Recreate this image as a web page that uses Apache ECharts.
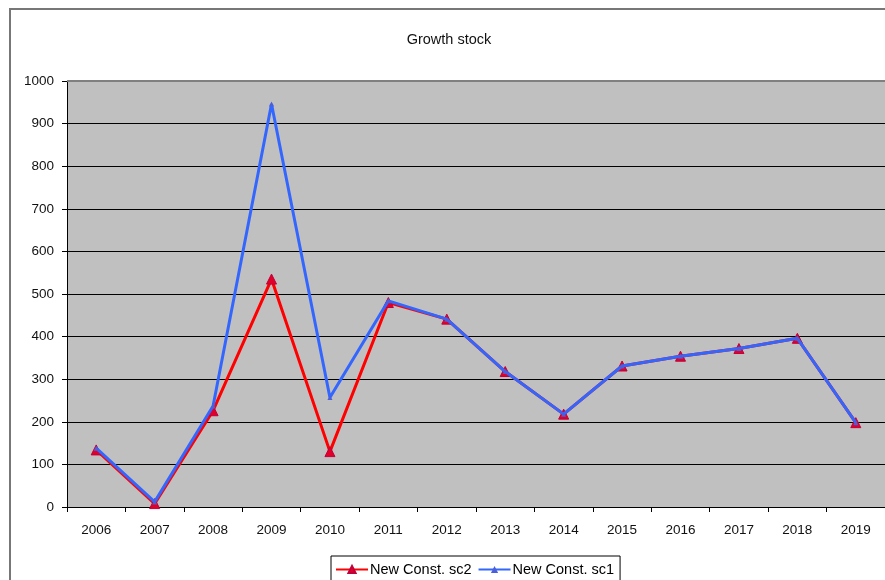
<!DOCTYPE html>
<html>
<head>
<meta charset="utf-8">
<script src="https://cdn.jsdelivr.net/npm/echarts@6/dist/echarts.min.js"></script>
<style>
  html, body { margin: 0; padding: 0; background: #fff; }
  #chart { width: 885px; height: 580px; }
</style>
</head>
<body>
<div id="chart"></div>
<script>
// Growth stock chart, Excel look

const years = ['2006', '2007', '2008', '2009', '2010', '2011', '2012', '2013', '2014', '2015', '2016', '2017', '2018', '2019'];
const sc2 = [134, 8, 226, 535, 130, 480, 441, 318, 218, 331, 354, 372, 396, 198];
const sc1 = [138, 12, 237, 946, 257, 484, 441, 318, 218, 331, 354, 372, 396, 198];

const chart = echarts.init(document.getElementById('chart'));

const font = 'Liberation Sans, Arial, sans-serif';

const option = {
    animation: false,
    backgroundColor: '#fff',
    title: {
        text: 'Growth stock',
        left: 444,
        top: 27,
        textAlign: 'center',
        textStyle: { fontSize: 14.5, fontWeight: 'normal', color: '#111', fontFamily: font },
    },
    grid: { left: 67, top: 81, right: -3, bottom: 73, backgroundColor: '#c0c0c0', show: true, borderWidth: 0 },
    legend: {
        left: 331,
        top: 556,
        orient: 'horizontal',
        itemWidth: 32,
        itemHeight: 9,
        itemGap: 6,
        padding: [6, 6, 12, 4],
        borderColor: '#000',
        borderWidth: 1,
        textStyle: { fontSize: 14.5, color: '#000', fontFamily: font, padding: [0, 0, 0, -3] },
        data: ['New Const. sc2', 'New Const. sc1'],
    },
    xAxis: {
        type: 'category',
        data: years,
        boundaryGap: true,
        axisLine: { lineStyle: { color: '#000', width: 1 } },
        axisTick: { show: true, length: 5, lineStyle: { color: '#000' } },
        axisLabel: { fontSize: 13.5, color: '#111', fontFamily: font, margin: 16 },
        splitLine: { show: false },
    },
    yAxis: {
        type: 'value',
        min: 0,
        max: 1000,
        interval: 100,
        axisLine: { show: true, lineStyle: { color: '#000', width: 1 } },
        axisTick: { show: true, length: 5, lineStyle: { color: '#000' } },
        axisLabel: { fontSize: 13.5, color: '#111', fontFamily: font, margin: 13, formatter: (v) => String(v) },
        splitLine: { show: true, lineStyle: { color: '#000', width: 1 } },
    },
    graphic: [
        { type: 'rect', shape: { x: 10, y: 9, width: 900, height: 600 }, style: { fill: null, stroke: '#777', lineWidth: 2 }, z: 0 },
        { type: 'line', shape: { x1: 67, y1: 81, x2: 885, y2: 81 }, style: { stroke: '#808080', lineWidth: 2 }, z: 10 },
    ],
    series: [
        {
            name: 'New Const. sc2',
            type: 'line',
            data: sc2,
            symbol: 'triangle',
            symbolSize: 10,
            color: '#ff0000',
            lineStyle: { color: '#ff0000', width: 3 },
            itemStyle: { color: '#e0002a', borderColor: '#c0003a', borderWidth: 1 },
            z: 2,
        },
        {
            name: 'New Const. sc1',
            type: 'line',
            data: sc1,
            symbol: 'triangle',
            symbolSize: 5,
            color: '#3366ff',
            lineStyle: { color: '#3366ff', width: 3 },
            itemStyle: { color: '#4a5fd8' },
            z: 3,
        },
    ],
};

chart.setOption(option);
</script>
</body>
</html>
